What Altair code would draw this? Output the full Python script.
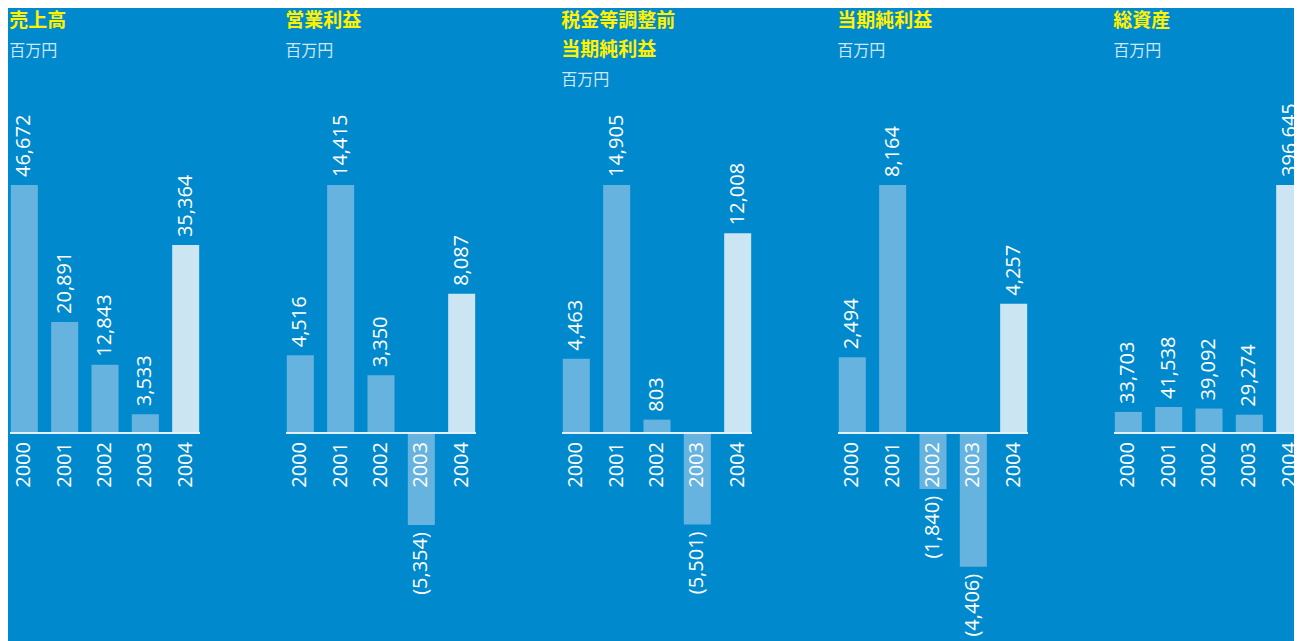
import altair as alt
import pandas as pd

years = ["2000", "2001", "2002", "2003", "2004"]
titles = [["売上高"], ["営業利益"], ["税金等調整前", "当期純利益"], ["当期純利益"], ["総資産"]]
unit = "百万円"
sales = [46672, 20891, 12843, 3533, 35364]
operating_income = [4516, 14415, 3350, -5354, 8087]
pretax_income = [4463, 14905, 803, -5501, 12008]
net_income = [2494, 8164, -1840, -4406, 4257]
total_assets = [33703, 41538, 39092, 29274, 396645]
series = [sales, operating_income, pretax_income, net_income, total_assets]

BG = "#0089CC"
BAR = "#66B3DF"
BAR_LAST = "#CCE5F3"
FONT = "Open Sans"
JP = "Noto Sans CJK JP"

UP = 333 / 248.0
DOWN = 227 / 248.0
PLOT_H = 560
PANEL_W = 190


def label(v):
    return f"{v:,}" if v >= 0 else f"({-v:,})"


def panel(title, vals):
    df = pd.DataFrame({"year": years, "value": vals, "zero": [0] * len(vals),
                       "label": [label(v) for v in vals]})
    m = max(vals)
    x = alt.X("year:O", axis=None,
              scale=alt.Scale(paddingInner=0.33, paddingOuter=0.02))
    yscale = alt.Scale(domain=[-m * DOWN, m * UP], nice=False, zero=True)
    y = alt.Y("value:Q", axis=None, scale=yscale)
    y0 = alt.Y("zero:Q", axis=None)
    base = alt.Chart(df).encode(x=x)
    bars = base.mark_bar().encode(
        y=y,
        color=alt.condition(alt.datum.year == "2004", alt.value(BAR_LAST), alt.value(BAR)),
    )
    txt = dict(angle=270, baseline="middle", font=FONT, fontSize=20, color="white")
    pos = base.transform_filter(alt.datum.value >= 0).mark_text(
        align="left", dx=8, **txt
    ).encode(y=y, text="label:N")
    neg = base.transform_filter(alt.datum.value < 0).mark_text(
        align="right", dx=-7, **txt
    ).encode(y=y, text="label:N")
    yr = base.mark_text(align="right", dx=-9, **txt).encode(y=y0, text="year:N")
    rule = alt.Chart(df).mark_rule(color="#E3F1FA", strokeWidth=1.5).encode(y=y0)
    offset = 12 if len(title) == 2 else 41.5
    return alt.layer(bars, rule, yr, pos, neg).properties(
        width=PANEL_W, height=PLOT_H,
        title=alt.TitleParams(text=title, subtitle=unit, anchor="start", offset=offset),
    )


chart = alt.hconcat(
    *[panel(t, s) for t, s in zip(titles, series)], spacing=84
).resolve_scale(
    y="independent", x="independent"
).properties(
    autosize=alt.AutoSizeParams(type="none"),
    padding={"left": 2, "top": 92, "right": 1284, "bottom": 532},
).configure(
    background=BG
).configure_view(stroke=None).configure_title(
    font=JP, fontSize=19, fontWeight="bold", color="#FFF100", lineHeight=29.5,
    subtitleFont=JP, subtitleFontSize=16, subtitleColor="#CFE6F4", subtitleFontWeight="normal",
    subtitlePadding=12,
)

chart.save("out.html", embed_options={"renderer": "svg", "actions": False})
